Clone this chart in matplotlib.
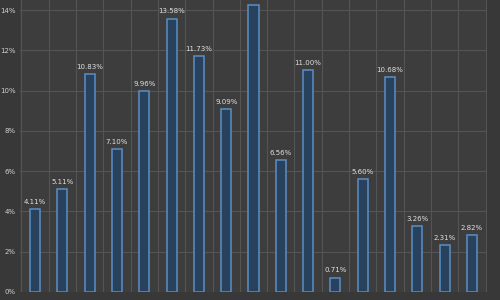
import numpy as np
import matplotlib
matplotlib.use("Agg")
import matplotlib.pyplot as plt
from matplotlib.ticker import FuncFormatter

# bar values in percent (bar 9 is cut off at the top, estimated)
values = [4.11, 5.11, 10.83, 7.10, 9.96, 13.58, 11.73, 9.09, 14.24,
          6.56, 11.00, 0.71, 5.60, 10.68, 3.26, 2.31, 2.82]
y_ticks = [0, 2, 4, 6, 8, 10, 12, 14]

bg = "#3d3d3d"
fig = plt.figure(figsize=(5, 3), dpi=100, facecolor="#383838")
ax = fig.add_axes([0.04, 0.027, 0.934, 0.973], facecolor=bg)

x = np.arange(len(values))
ax.bar(x, values, width=0.37, color="#28415c", edgecolor="#5a8ec6",
       linewidth=1.1, zorder=3)

for xi, v in zip(x, values):
    ax.annotate("%.2f%%" % v, (xi, v), xytext=(0, 3), textcoords="offset points",
                ha="center", va="bottom", fontsize=5, color="#e0e0e0",
                annotation_clip=False)

ax.set_xlim(-0.55, 16.55)
ax.set_ylim(0, 14.5)
ax.set_yticks(y_ticks)
ax.yaxis.set_major_formatter(FuncFormatter(lambda v, p: "%d%%" % v))
ax.set_xticks(np.arange(-0.5, 17, 1))
ax.set_xticklabels([])
ax.tick_params(axis="y", colors="#cfcfcf", labelsize=5, length=0, pad=3)
ax.tick_params(axis="x", length=0)
ax.grid(True, color="#545454", linewidth=0.8, zorder=0)
for s in ax.spines.values():
    s.set_visible(False)

fig.savefig("out.png", facecolor=fig.get_facecolor())
